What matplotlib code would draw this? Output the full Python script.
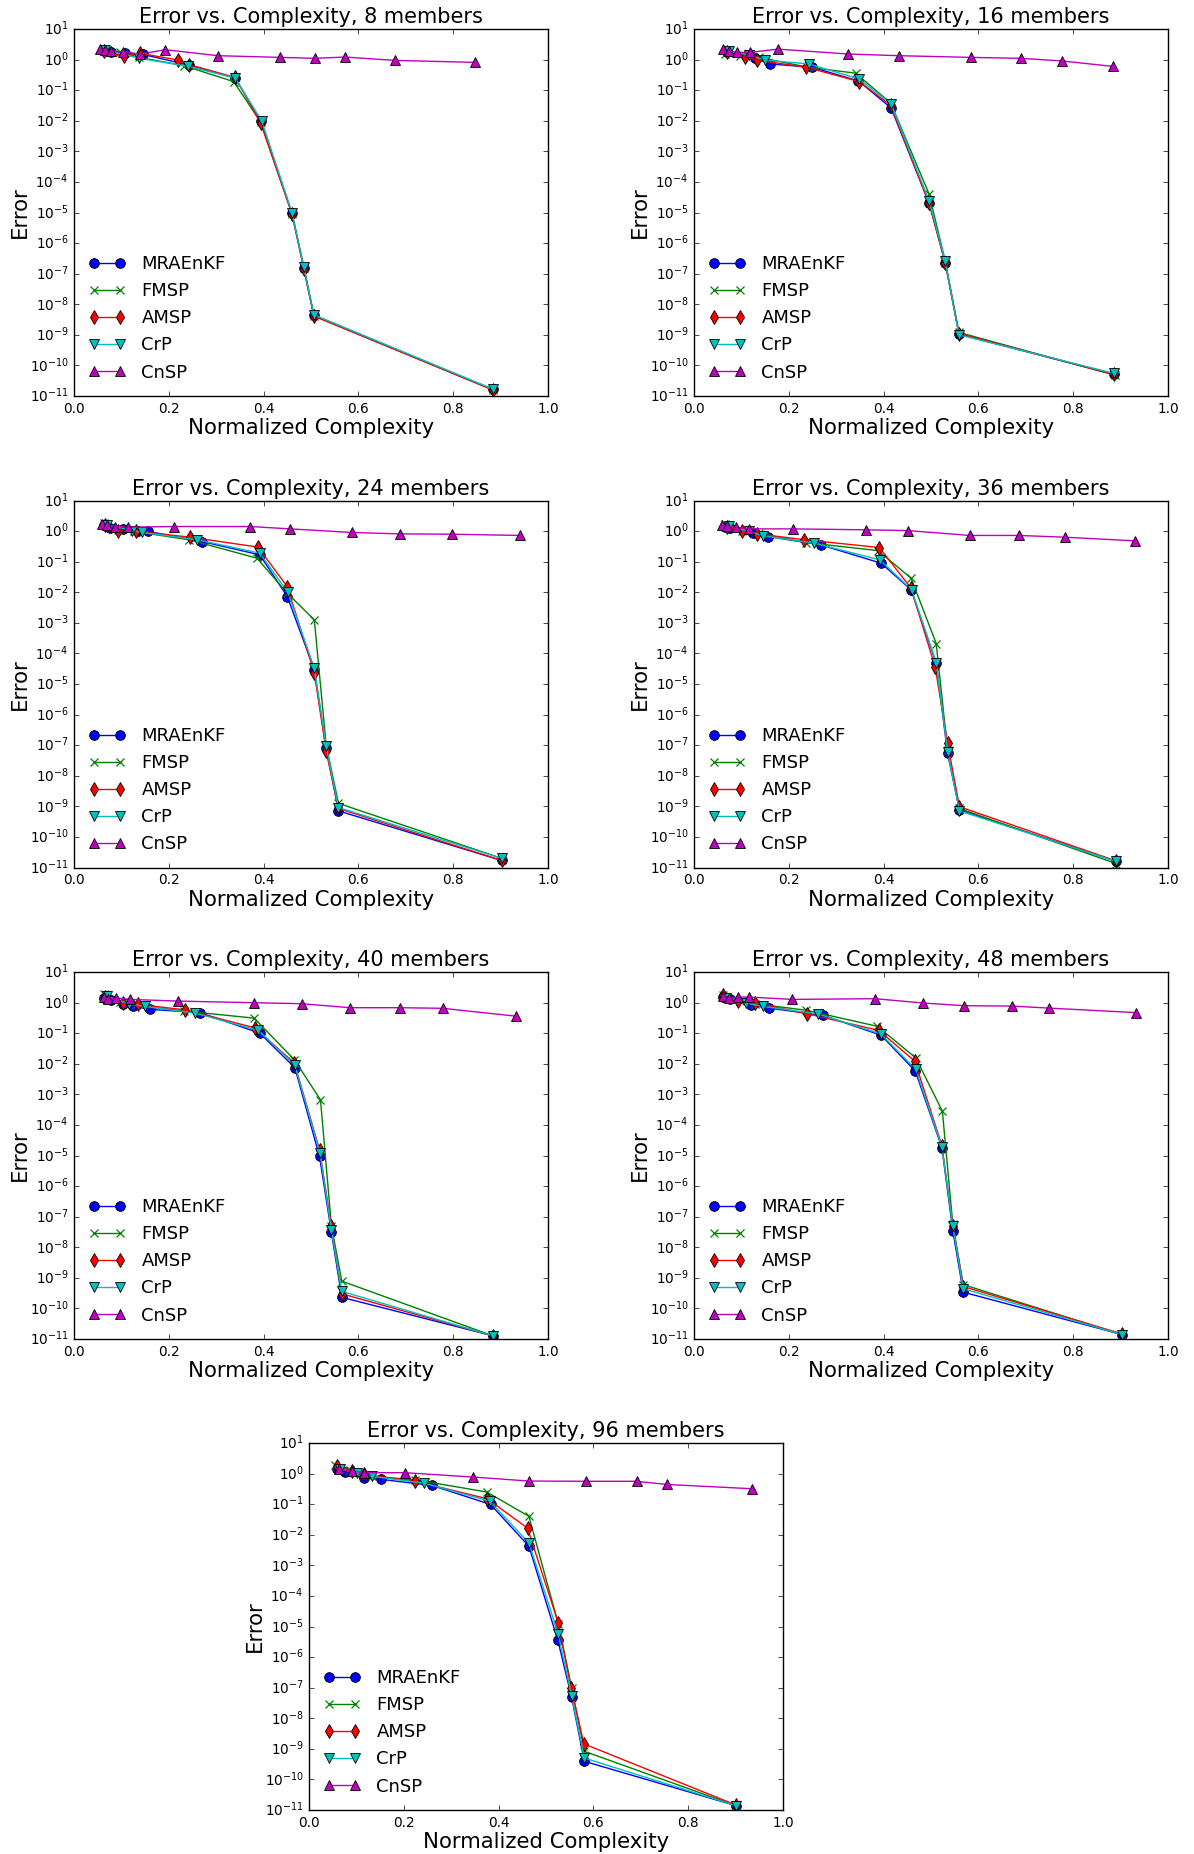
import matplotlib
matplotlib.use("Agg")
import matplotlib.pyplot as plt

plt.style.use("classic")
plt.rcParams.update({
    "font.family": ["DejaVu Sans"],
    "mathtext.fontset": "dejavusans",
    "figure.facecolor": "white",
    "savefig.facecolor": "white",
    "axes.linewidth": 1.0,
    "xtick.major.size": 3.5,
    "ytick.major.size": 3.5,
    "xtick.minor.size": 0,
    "ytick.minor.size": 0,
    "xtick.labelsize": 9.8,
    "ytick.labelsize": 9.8,
})

methods = ["MRAEnKF", "FMSP", "AMSP", "CrP", "CnSP"]
colors = ["b", "g", "r", "c", "m"]
markers = ["o", "x", "d", "v", "^"]
members = [8, 16, 24, 36, 40, 48, 96]

# ---- 8 members ----
c8_mra = [0.0625, 0.078, 0.108, 0.145, 0.243, 0.340, 0.395, 0.460, 0.485, 0.506, 0.883]
e8_mra = [1.95, 1.81, 1.64, 1.48, 0.66, 0.249, 0.0095, 9.3e-6, 1.55e-7, 4.4e-9, 1.65e-11]
c8_fms = [0.0625, 0.096, 0.138, 0.232, 0.337, 0.394, 0.460, 0.485, 0.506, 0.883]
e8_fms = [2.2, 1.8, 1.18, 0.63, 0.19, 0.0089, 8.9e-6, 1.48e-7, 4.2e-9, 1.6e-11]
c8_ams = [0.0625, 0.105, 0.139, 0.220, 0.243, 0.340, 0.394, 0.460, 0.485, 0.506, 0.883]
e8_ams = [1.95, 1.27, 1.6, 0.97, 0.68, 0.26, 0.0083, 8.9e-6, 1.45e-7, 4.1e-9, 1.6e-11]
c8_crp = [0.066, 0.138, 0.241, 0.340, 0.396, 0.460, 0.485, 0.506, 0.883]
e8_crp = [2.06, 1.1, 0.6, 0.25, 0.0098, 9.6e-6, 1.6e-7, 4.5e-9, 1.7e-11]
c8_cns = [0.055, 0.065, 0.078, 0.104, 0.139, 0.193, 0.304, 0.435, 0.508, 0.572, 0.678, 0.847]
e8_cns = [2.2, 2.0, 1.86, 1.8, 1.52, 2.1, 1.34, 1.18, 1.10, 1.21, 0.94, 0.81]

# ---- 16 members ----
c16_mra = [0.069, 0.129, 0.161, 0.249, 0.347, 0.416, 0.496, 0.530, 0.559, 0.886]
e16_mra = [1.72, 1.1, 0.72, 0.56, 0.2, 0.026, 2.0e-5, 2.3e-7, 1.05e-9, 5.1e-11]
c16_fms = [0.065, 0.098, 0.121, 0.137, 0.241, 0.341, 0.415, 0.496, 0.530, 0.559, 0.888]
e16_fms = [1.52, 1.34, 1.4, 1.18, 0.56, 0.36, 0.038, 4e-5, 2.6e-7, 1.2e-9, 4.8e-11]
c16_ams = [0.069, 0.107, 0.133, 0.237, 0.349, 0.415, 0.496, 0.530, 0.559, 0.886]
e16_ams = [1.72, 1.18, 0.96, 0.56, 0.19, 0.032, 2.0e-5, 2.3e-7, 1.1e-9, 5.1e-11]
c16_crp = [0.073, 0.117, 0.150, 0.242, 0.349, 0.416, 0.496, 0.530, 0.559, 0.886]
e16_crp = [1.95, 1.4, 0.96, 0.72, 0.23, 0.035, 2.4e-5, 2.6e-7, 1.0e-9, 5.5e-11]
c16_cns = [0.061, 0.073, 0.090, 0.118, 0.177, 0.325, 0.432, 0.584, 0.690, 0.777, 0.883]
e16_cns = [2.2, 1.95, 1.72, 1.72, 2.2, 1.52, 1.34, 1.18, 1.1, 0.9, 0.6]

# ---- 24 members ----
c24_mra = [0.0625, 0.076, 0.104, 0.134, 0.157, 0.270, 0.392, 0.450, 0.507, 0.532, 0.558, 0.902]
e24_mra = [1.6, 1.24, 1.15, 1.04, 0.97, 0.455, 0.167, 0.0072, 2.9e-5, 7.9e-8, 7.1e-10, 1.7e-11]
c24_fms = [0.0625, 0.093, 0.127, 0.243, 0.386, 0.450, 0.507, 0.532, 0.558, 0.902]
e24_fms = [1.86, 1.1, 0.97, 0.52, 0.13, 0.0093, 1.25e-3, 1.0e-7, 1.25e-9, 2e-11]
c24_ams = [0.066, 0.093, 0.130, 0.245, 0.388, 0.450, 0.507, 0.532, 0.558, 0.902]
e24_ams = [1.6, 1.04, 1.0, 0.63, 0.30, 0.0153, 2.35e-5, 6.3e-8, 8.5e-10, 1.7e-11]
c24_crp = [0.070, 0.123, 0.144, 0.260, 0.392, 0.451, 0.507, 0.532, 0.558, 0.902]
e24_crp = [1.6, 1.04, 0.9, 0.52, 0.19, 0.01, 3.3e-5, 9.3e-8, 9.1e-10, 2e-11]
c24_cns = [0.060, 0.070, 0.087, 0.114, 0.212, 0.372, 0.456, 0.587, 0.687, 0.797, 0.940]
e24_cns = [1.72, 1.6, 1.41, 1.34, 1.41, 1.41, 1.18, 0.9, 0.81, 0.79, 0.72]

# ---- 36 members ----
c36_mra = [0.065, 0.077, 0.125, 0.157, 0.267, 0.395, 0.458, 0.511, 0.535, 0.560, 0.890]
e36_mra = [1.41, 1.24, 0.85, 0.66, 0.355, 0.089, 0.012, 4.8e-5, 5.4e-8, 7.6e-10, 1.6e-11]
c36_fms = [0.065, 0.101, 0.137, 0.237, 0.388, 0.458, 0.511, 0.535, 0.560, 0.890]
e36_fms = [1.72, 1.04, 0.85, 0.42, 0.23, 0.029, 2.1e-4, 6.9e-8, 8.5e-10, 1.35e-11]
c36_ams = [0.069, 0.102, 0.133, 0.233, 0.391, 0.458, 0.509, 0.535, 0.560, 0.890]
e36_ams = [1.41, 0.97, 0.81, 0.52, 0.29, 0.0135, 3.5e-5, 1.15e-7, 9.7e-10, 1.65e-11]
c36_crp = [0.073, 0.117, 0.146, 0.254, 0.392, 0.459, 0.511, 0.535, 0.560, 0.890]
e36_crp = [1.48, 0.97, 0.70, 0.40, 0.115, 0.012, 5e-5, 6.2e-8, 7.1e-10, 1.6e-11]
c36_cns = [0.059, 0.070, 0.089, 0.115, 0.209, 0.363, 0.451, 0.582, 0.685, 0.783, 0.930]
e36_cns = [1.6, 1.48, 1.34, 1.18, 1.18, 1.1, 1.04, 0.72, 0.72, 0.63, 0.48]

# ---- 40 members ----
c40_mra = [0.0625, 0.078, 0.104, 0.125, 0.160, 0.266, 0.392, 0.466, 0.518, 0.543, 0.565, 0.883]
e40_mra = [1.45, 1.18, 0.92, 0.75, 0.6, 0.47, 0.10, 0.0074, 9.3e-6, 3.1e-8, 2.3e-10, 1.28e-11]
c40_fms = [0.0625, 0.098, 0.130, 0.233, 0.380, 0.465, 0.520, 0.543, 0.565, 0.883]
e40_fms = [1.86, 1.04, 0.81, 0.53, 0.31, 0.0135, 6.6e-4, 5.1e-8, 7.8e-10, 1.28e-11]
c40_ams = [0.066, 0.104, 0.134, 0.234, 0.381, 0.465, 0.518, 0.543, 0.565, 0.883]
e40_ams = [1.52, 0.99, 0.87, 0.58, 0.15, 0.0105, 1.55e-5, 4.8e-8, 3e-10, 1.28e-11]
c40_crp = [0.070, 0.115, 0.149, 0.255, 0.389, 0.466, 0.519, 0.543, 0.565, 0.883]
e40_crp = [1.6, 0.92, 0.75, 0.455, 0.123, 0.0089, 1.2e-5, 3.7e-8, 3.6e-10, 1.28e-11]
c40_cns = [0.0625, 0.072, 0.089, 0.119, 0.219, 0.380, 0.480, 0.583, 0.687, 0.778, 0.932]
e40_cns = [1.52, 1.34, 1.41, 1.27, 1.12, 0.99, 0.92, 0.68, 0.68, 0.65, 0.36]

# ---- 48 members ----
c48_mra = [0.062, 0.077, 0.121, 0.158, 0.273, 0.395, 0.467, 0.523, 0.546, 0.568, 0.904]
e48_mra = [1.52, 1.27, 0.81, 0.66, 0.38, 0.085, 0.0057, 1.8e-5, 3.5e-8, 3.4e-10, 1.38e-11]
c48_fms = [0.061, 0.097, 0.129, 0.237, 0.387, 0.468, 0.524, 0.546, 0.568, 0.904]
e48_fms = [1.8, 1.12, 0.92, 0.56, 0.167, 0.0155, 2.8e-4, 5.7e-8, 6e-10, 1.38e-11]
c48_ams = [0.061, 0.093, 0.129, 0.239, 0.390, 0.466, 0.523, 0.546, 0.568, 0.904]
e48_ams = [1.72, 1.12, 0.97, 0.43, 0.123, 0.012, 2.1e-5, 5.1e-8, 5.2e-10, 1.45e-11]
c48_crp = [0.067, 0.109, 0.145, 0.261, 0.394, 0.468, 0.523, 0.546, 0.568, 0.904]
e48_crp = [1.41, 0.97, 0.75, 0.43, 0.095, 0.0065, 1.9e-5, 4.8e-8, 4.4e-10, 1.38e-11]
c48_cns = [0.062, 0.073, 0.093, 0.115, 0.207, 0.382, 0.483, 0.570, 0.670, 0.749, 0.932]
e48_cns = [1.6, 1.41, 1.52, 1.52, 1.27, 1.34, 0.97, 0.79, 0.77, 0.66, 0.47]

# ---- 96 members ----
c96_mra = [0.0595, 0.076, 0.115, 0.151, 0.259, 0.383, 0.464, 0.525, 0.554, 0.581, 0.901]
e96_mra = [1.45, 1.12, 0.73, 0.65, 0.41, 0.098, 0.0042, 3.5e-6, 4.9e-8, 3.9e-10, 1.38e-11]
c96_fms = [0.0557, 0.087, 0.133, 0.223, 0.375, 0.464, 0.526, 0.554, 0.581, 0.901]
e96_fms = [1.95, 1.27, 0.81, 0.63, 0.25, 0.04, 1.2e-5, 1e-7, 8.3e-10, 1.38e-11]
c96_ams = [0.0587, 0.091, 0.115, 0.223, 0.376, 0.461, 0.526, 0.553, 0.580, 0.901]
e96_ams = [1.72, 1.21, 0.94, 0.57, 0.15, 0.0165, 1.3e-5, 9.8e-8, 1.45e-9, 1.45e-11]
c96_crp = [0.0648, 0.102, 0.133, 0.242, 0.381, 0.464, 0.526, 0.554, 0.581, 0.901]
e96_crp = [1.45, 1.04, 0.81, 0.49, 0.126, 0.0054, 5.5e-6, 5.5e-8, 5e-10, 1.38e-11]
c96_cns = [0.0625, 0.091, 0.115, 0.202, 0.346, 0.464, 0.585, 0.691, 0.756, 0.934]
e96_cns = [1.37, 1.21, 1.07, 1.07, 0.77, 0.57, 0.56, 0.56, 0.44, 0.32]

panel_series = [
    [(c8_mra, e8_mra), (c8_fms, e8_fms), (c8_ams, e8_ams), (c8_crp, e8_crp), (c8_cns, e8_cns)],
    [(c16_mra, e16_mra), (c16_fms, e16_fms), (c16_ams, e16_ams), (c16_crp, e16_crp), (c16_cns, e16_cns)],
    [(c24_mra, e24_mra), (c24_fms, e24_fms), (c24_ams, e24_ams), (c24_crp, e24_crp), (c24_cns, e24_cns)],
    [(c36_mra, e36_mra), (c36_fms, e36_fms), (c36_ams, e36_ams), (c36_crp, e36_crp), (c36_cns, e36_cns)],
    [(c40_mra, e40_mra), (c40_fms, e40_fms), (c40_ams, e40_ams), (c40_crp, e40_crp), (c40_cns, e40_cns)],
    [(c48_mra, e48_mra), (c48_fms, e48_fms), (c48_ams, e48_ams), (c48_crp, e48_crp), (c48_cns, e48_cns)],
    [(c96_mra, e96_mra), (c96_fms, e96_fms), (c96_ams, e96_ams), (c96_crp, e96_crp), (c96_cns, e96_cns)],
]

W, H = 1194, 1854
fig = plt.figure(figsize=(W / 100, H / 100), dpi=100)

# axes boxes in pixels: (left, top)
ax_w, ax_h = 474, 367
boxes = [(74, 29), (694, 29), (74, 500.5), (694, 500.5),
         (74, 972), (694, 972), (309, 1443)]

for n, series, (lx, ty) in zip(members, panel_series, boxes):
    ax = fig.add_axes([lx / W, 1 - (ty + ax_h) / H, ax_w / W, ax_h / H])
    for name, col, mk, (cx, ey) in zip(methods, colors, markers, series):
        if mk == "x":
            style = dict(markersize=6, markeredgewidth=0.9, markeredgecolor=col)
        else:
            style = dict(markersize=7, markeredgewidth=0.6, markeredgecolor="k")
        ax.semilogy(cx, ey, color=col, marker=mk, linewidth=1.0,
                    label=name, **style)
    ax.set_xlim(0, 1)
    ax.set_ylim(1e-11, 1e1)
    ax.set_yticks([10.0 ** k for k in range(-11, 2)])
    ax.set_xticks([0.0, 0.2, 0.4, 0.6, 0.8, 1.0])
    ax.minorticks_off()
    ax.set_title(f"Error vs. Complexity, {n} members", fontsize=15, pad=4)
    ax.set_xlabel("Normalized Complexity", fontsize=15.3, labelpad=2)
    ax.set_ylabel("Error", fontsize=15.3, labelpad=0)
    ax.legend(loc="lower left", frameon=False, numpoints=2, fontsize=13,
              handlelength=2.0, handletextpad=0.9, labelspacing=0.5,
              borderaxespad=0.3, bbox_to_anchor=(0.005, 0.005))

fig.savefig("out.png", dpi=100)
